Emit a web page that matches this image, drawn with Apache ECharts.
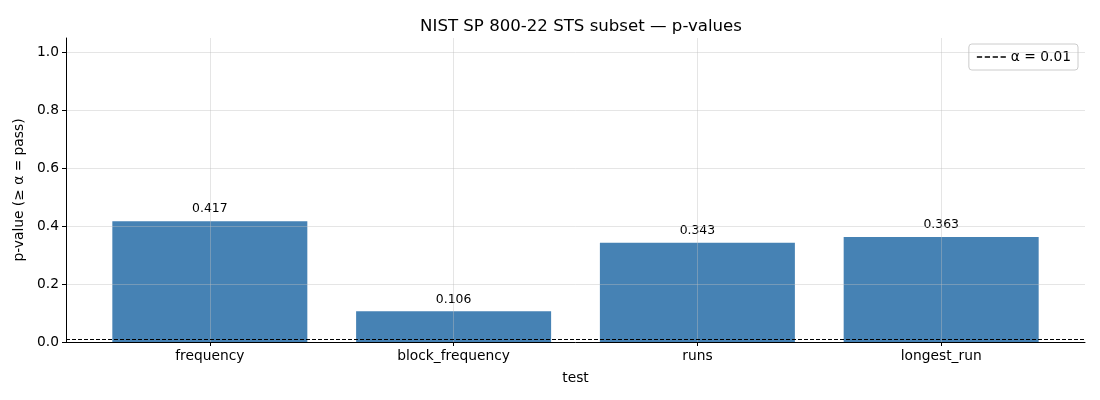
<!DOCTYPE html>
<html>
<head>
<meta charset="utf-8">
<script src="https://cdn.jsdelivr.net/npm/echarts@6/dist/echarts.min.js"></script>
<style>
  html, body { margin: 0; padding: 0; background: #fff; }
  #chart { width: 1100px; height: 400px; }
</style>
</head>
<body>
<div id="chart"></div>
<script>
// 数据
const tests = ['frequency', 'block_frequency', 'runs', 'longest_run']
const pValues = [0.417, 0.106, 0.343, 0.363]
const alpha = 0.01
const yTicks = [0, 0.2, 0.4, 0.6, 0.8, 1.0]

const font = 'DejaVu Sans'
const gridColor = 'rgba(190,190,190,0.4)'

const chart = echarts.init(document.getElementById('chart'), null, { renderer: 'canvas' })

chart.setOption({
  animation: false,
  textStyle: { fontFamily: font },
  title: {
    text: 'NIST SP 800-22 STS subset — p-values',
    left: 576,
    textAlign: 'center',
    top: 13,
    textStyle: { fontFamily: font, fontSize: 16.6, fontWeight: 'normal', color: '#000' }
  },
  legend: {
    right: 22,
    top: 44,
    padding: [6, 7, 6, 8],
    backgroundColor: '#fff',
    borderColor: '#ccc',
    borderWidth: 1,
    borderRadius: 3,
    itemWidth: 29,
    itemHeight: 12,
    itemGap: 10,
    textStyle: { fontFamily: font, fontSize: 13.8, color: '#000' },
    data: [{ name: 'α = 0.01', icon: 'path://M0,0 L6,0 L6,1.5 L0,1.5 Z M9,0 L15,0 L15,1.5 L9,1.5 Z M18,0 L24,0 L24,1.5 L18,1.5 Z M27,0 L33,0 L33,1.5 L27,1.5 Z', itemStyle: { color: '#000' } }]
  },
  grid: { left: 66, right: 15, top: 38, bottom: 58 },
  xAxis: {
    type: 'value',
    min: -0.59,
    max: 3.59,
    z: 10,
    name: 'test',
    nameLocation: 'middle',
    nameGap: 29,
    nameTextStyle: { fontFamily: font, fontSize: 13.8, color: '#000' },
    axisLine: { onZero: false, lineStyle: { color: '#000', width: 1 } },
    axisTick: { show: true, length: 4, lineStyle: { color: '#000' }, customValues: [0, 1, 2, 3] },
    axisLabel: {
      customValues: [0, 1, 2, 3],
      formatter: v => tests[Math.round(v)] || '',
      color: '#000', fontSize: 13.8, fontFamily: font, margin: 7
    },
    splitLine: { show: false }
  },
  yAxis: {
    type: 'value',
    min: 0,
    max: 1.05,
    interval: 0.2,
    z: 10,
    name: 'p-value (≥ α = pass)',
    nameLocation: 'middle',
    nameGap: 39,
    nameTextStyle: { fontFamily: font, fontSize: 13.8, color: '#000' },
    axisLine: { show: true, onZero: false, lineStyle: { color: '#000', width: 1 } },
    axisTick: { show: true, length: 4, lineStyle: { color: '#000' }, customValues: yTicks },
    axisLabel: {
      customValues: yTicks,
      formatter: v => v.toFixed(1),
      color: '#000', fontSize: 13.8, fontFamily: font, margin: 7
    },
    splitLine: { show: false }
  },
  series: [
    {
      type: 'bar',
      barWidth: 195,
      data: pValues.map((v, i) => [i, v]),
      itemStyle: { color: '#4682b4' },
      label: {
        show: true,
        position: 'top',
        distance: 6,
        formatter: p => p.value[1].toFixed(3),
        fontFamily: font, fontSize: 12.4, color: '#000'
      },
      // 网格线画在柱子上面
      markLine: {
        silent: true,
        symbol: 'none',
        label: { show: false },
        lineStyle: { color: gridColor, type: 'solid', width: 1, opacity: 1 },
        z: 5,
        data: tests.map((t, i) => ({ xAxis: i })).concat(yTicks.slice(1).map(v => ({ yAxis: v })))
      }
    },
    {
      name: 'α = 0.01',
      type: 'line',
      data: [],
      lineStyle: { color: '#000', type: 'dashed', width: 1 },
      itemStyle: { color: '#000' },
      markLine: {
        silent: true,
        symbol: 'none',
        label: { show: false },
        lineStyle: { color: '#000', type: [4, 2], width: 1, opacity: 1 },
        data: [{ yAxis: alpha }]
      }
    }
  ]
})
</script>
</body>
</html>
